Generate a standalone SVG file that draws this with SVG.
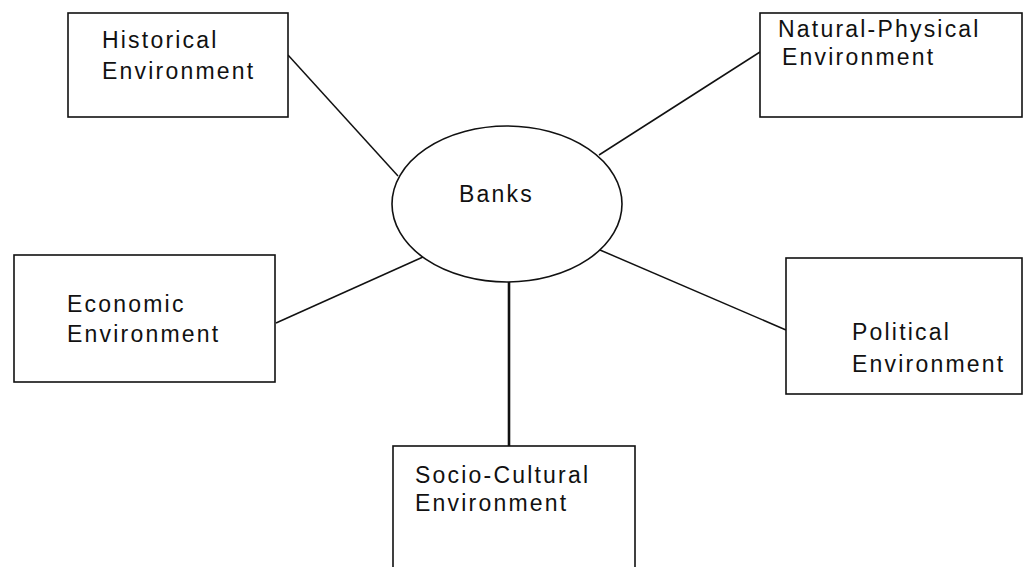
<svg xmlns="http://www.w3.org/2000/svg" width="1024" height="567" viewBox="0 0 1024 567">
<style>
.box{fill:#fff;stroke:#111;stroke-width:1.6}
.lbl{font-family:"Liberation Sans",Arial,sans-serif;font-size:23px;letter-spacing:2.2px;fill:#111}
.con{stroke:#111;stroke-width:1.5;fill:none}
</style>
<rect width="1024" height="567" fill="#fff"/>
<g id="connectors">
<line class="con" x1="288" y1="55" x2="398" y2="176"/>
<line class="con" x1="760" y1="52" x2="599" y2="155"/>
<line class="con" x1="276" y1="323" x2="423" y2="257"/>
<line class="con" x1="786" y1="330" x2="600" y2="250"/>
<line class="con" x1="509" y1="282" x2="509" y2="446" style="stroke-width:2.6"/>
</g>
<g id="historical">
<rect class="box" x="68" y="13" width="220" height="104"/>
<text class="lbl" x="102" y="48">Historical</text>
<text class="lbl" x="102" y="79">Environment</text>
</g>
<g id="natural-physical">
<rect class="box" x="760" y="13" width="262" height="104"/>
<text class="lbl" x="778" y="37">Natural-Physical</text>
<text class="lbl" x="782" y="65">Environment</text>
</g>
<g id="economic">
<rect class="box" x="14" y="255" width="261" height="127"/>
<text class="lbl" x="67" y="312">Economic</text>
<text class="lbl" x="67" y="342">Environment</text>
</g>
<g id="political">
<rect class="box" x="786" y="258" width="236" height="136"/>
<text class="lbl" x="852" y="340">Political</text>
<text class="lbl" x="852" y="372">Environment</text>
</g>
<g id="socio-cultural">
<rect class="box" x="393" y="446" width="242" height="140"/>
<text class="lbl" x="415" y="483">Socio-Cultural</text>
<text class="lbl" x="415" y="511">Environment</text>
</g>
<g id="banks">
<ellipse class="box" cx="507" cy="204" rx="115" ry="78"/>
<text class="lbl" x="459" y="202">Banks</text>
</g>
</svg>
